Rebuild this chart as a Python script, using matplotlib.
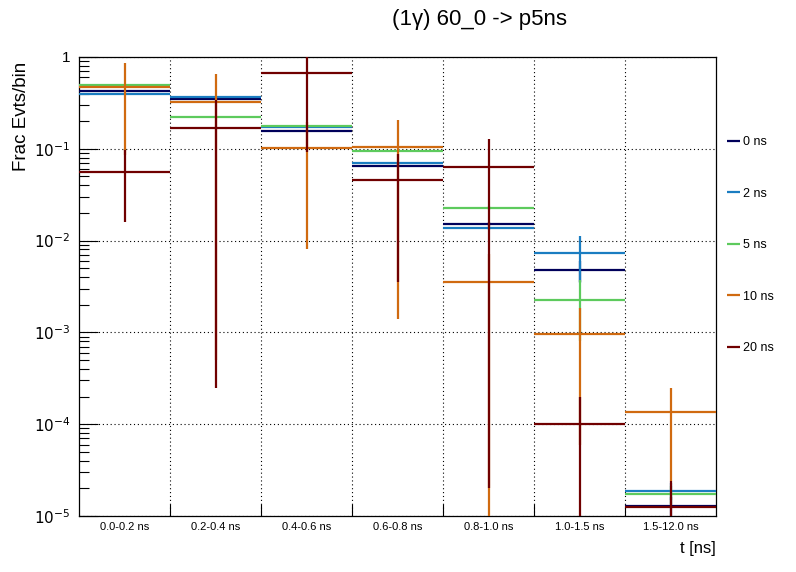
import numpy as np
import matplotlib.pyplot as plt
from matplotlib.ticker import FixedLocator, FuncFormatter, LogLocator, NullFormatter

plt.rcParams['font.family'] = ['Liberation Sans', 'DejaVu Sans']

# bins and labels
bin_labels = ["0.0-0.2 ns", "0.2-0.4 ns", "0.4-0.6 ns", "0.6-0.8 ns",
              "0.8-1.0 ns", "1.0-1.5 ns", "1.5-12.0 ns"]
series_names = ["0 ns", "2 ns", "5 ns", "10 ns", "20 ns"]
series_colors = ["#00005a", "#1a7dc1", "#5dca5d", "#d06a10", "#700000"]

# fraction of events per bin, one list per lifetime
vals_0ns = [0.430, 0.351, 0.157, 0.0655, 0.0153, 0.00478, 1.30e-5]
vals_2ns = [0.392, 0.370, 0.171, 0.0700, 0.0138, 0.00733, 1.89e-5]
vals_5ns = [0.499, 0.224, 0.177, 0.0954, 0.0227, 0.00225, 1.74e-5]
vals_10ns = [0.475, 0.326, 0.103, 0.1047, 0.00357, 0.00096, 1.36e-4]
vals_20ns = [0.0563, 0.170, 0.675, 0.046, 0.0633, 1.01e-4, 1.26e-5]

# symmetric errors
errs_0ns = [0.008, 0.007, 0.004, 0.002, 0.0008, 0.0012, 0.3e-5]
errs_2ns = [0.008, 0.007, 0.004, 0.002, 0.0008, 0.0039, 0.4e-5]
errs_5ns = [0.010, 0.006, 0.005, 0.003, 0.0012, 0.00145, 0.4e-5]
errs_10ns = [0.39, 0.3255, 0.095, 0.1033, 0.003565, 0.0009, 1.12e-4]
errs_20ns = [0.0405, 0.16975, 0.582, 0.0425, 0.06328, 0.98e-4, 1.15e-5]

all_vals = [vals_0ns, vals_2ns, vals_5ns, vals_10ns, vals_20ns]
all_errs = [errs_0ns, errs_2ns, errs_5ns, errs_10ns, errs_20ns]

fig = plt.figure(figsize=(7.96, 5.72), dpi=100)
ax = fig.add_axes([79 / 796, 1 - 516 / 572, 637 / 796, 459 / 572])

nbins = len(bin_labels)
edges = np.arange(nbins + 1)
centers = edges[:-1] + 0.5

for k, (vals, errs) in enumerate(zip(all_vals, all_errs)):
    vals = np.array(vals)
    errs = np.array(errs)
    lo = np.maximum(vals - errs, 1e-8)
    hi = vals + errs
    z = 3 + k
    ax.hlines(vals, edges[:-1], edges[1:], colors=series_colors[k], lw=1.6, zorder=z,
              label=series_names[k])
    ax.vlines(centers, lo, hi, colors=series_colors[k], lw=1.6, zorder=z)

ax.set_yscale('log')
ax.set_ylim(1e-5, 1)
ax.set_xlim(0, nbins)

# y ticks
ax.yaxis.set_major_locator(LogLocator(base=10, numticks=10))
ax.yaxis.set_minor_locator(LogLocator(base=10, subs=np.arange(2, 10), numticks=10))
ax.yaxis.set_minor_formatter(NullFormatter())


def fmt_y(v, pos):
    e = int(round(np.log10(v)))
    if e == 0:
        return "1"
    return r"$10^{%d}$" % e


ax.yaxis.set_major_formatter(FuncFormatter(fmt_y))
ax.tick_params(axis='y', which='major', length=13.5, width=0.8, direction='in',
               labelsize=11, pad=6)
ax.tick_params(axis='y', which='minor', length=7, width=0.8, direction='in')

# x ticks: edges carry the marks, centers carry the labels
ax.xaxis.set_major_locator(FixedLocator(edges[1:-1]))
ax.xaxis.set_major_formatter(NullFormatter())
ax.xaxis.set_minor_locator(FixedLocator(centers))
ax.set_xticklabels(bin_labels, minor=True)
ax.tick_params(axis='x', which='major', length=9, width=0.8, direction='in')
ax.tick_params(axis='x', which='minor', length=0, labelsize=8, pad=4)

ax.grid(True, which='major', axis='both', color='black', linestyle=(0, (1, 2.5)), lw=0.8)
ax.set_axisbelow(True)
for sp in ax.spines.values():
    sp.set_linewidth(0.9)

ax.set_ylabel("Frac Evts/bin", fontsize=13.5, loc='top', labelpad=3)
ax.yaxis.label.set_y(0.989)
ax.set_xlabel("t [ns]", fontsize=12, loc='right', labelpad=7)

fig.text(480 / 796, 1 - 20 / 572, "(1\u03b3) 60_0 -> p5ns", fontsize=16,
         ha='center', va='center')

ax.legend(loc='upper left', bbox_to_anchor=(727 / 796, 1 - 136 / 572),
          bbox_transform=fig.transFigure, frameon=False, fontsize=9,
          handlelength=1.0, handletextpad=0.25, labelspacing=3.17,
          borderpad=0, borderaxespad=0)

fig.savefig("out.png", dpi=100)
